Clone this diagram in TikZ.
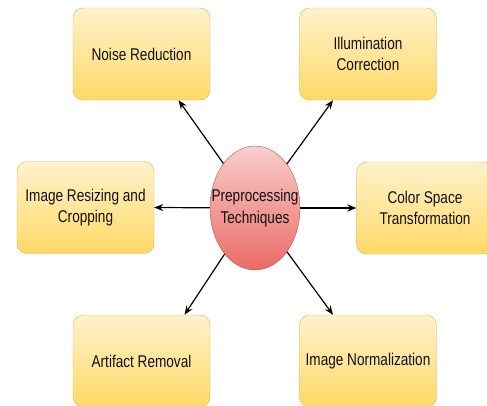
\documentclass[tikz,border=0pt]{standalone}
\usepackage{fontspec}
\setmainfont{Liberation Sans}[FakeStretch=0.8]
\usetikzlibrary{shapes.geometric,arrows.meta}
\definecolor{boxtop}{HTML}{FFF2CC}
\definecolor{boxbot}{HTML}{FFD966}
\definecolor{boxline}{HTML}{D6B656}
\definecolor{hubtop}{HTML}{F8CECC}
\definecolor{hubbot}{HTML}{EA6B66}
\definecolor{hubline}{HTML}{B85450}
\definecolor{ink}{HTML}{111111}
\begin{document}
\begin{tikzpicture}[x=1pt, y=-1pt,
every node/.style={align=center, text=ink, font=\fontsize{17}{21.5}\selectfont},
box/.style={shape=rectangle, rounded corners=10pt, draw=boxline, top color=boxtop, bottom color=boxbot, minimum width=137pt, minimum height=92pt},
hub/.style={shape=ellipse, draw=hubline, top color=hubtop, bottom color=hubbot, minimum width=90pt, minimum height=124pt, inner sep=0pt},
link/.style={draw, line width=1.2pt, -{Stealth[length=9pt, width=7pt]}}]
\useasboundingbox (0,0) rectangle (487,405);
% centre
\node[hub] (pre) at (255,208) {};
\node (pretext) at (pre) {Preprocessing\\Techniques};
% techniques
\node[box] (noise) at (141.5,54) {Noise Reduction};
\node[box] (illum) at (368,54) {Illumination\\Correction};
\node[box] (resize) at (85.5,207.5) {Image Resizing and\\Cropping};
\node[box] (color) at (425,208) {Color Space\\Transformation};
\node[box] (artifact) at (141.5,361) {Artifact Removal};
\node[box] (normal) at (368,361) {Image Normalization};
% arrows
\path[link] (pre) -- ([xshift=37pt]noise.south);
\path[link] (pre) -- ([xshift=-35pt]illum.south);
\path[link] (pre) -- (resize.east);
\path[link] (pre) -- (color.west);
\path[link] (pre) -- ([xshift=43pt]artifact.north);
\path[link] (pre) -- ([xshift=-35pt]normal.north);
\end{tikzpicture}
\end{document}
